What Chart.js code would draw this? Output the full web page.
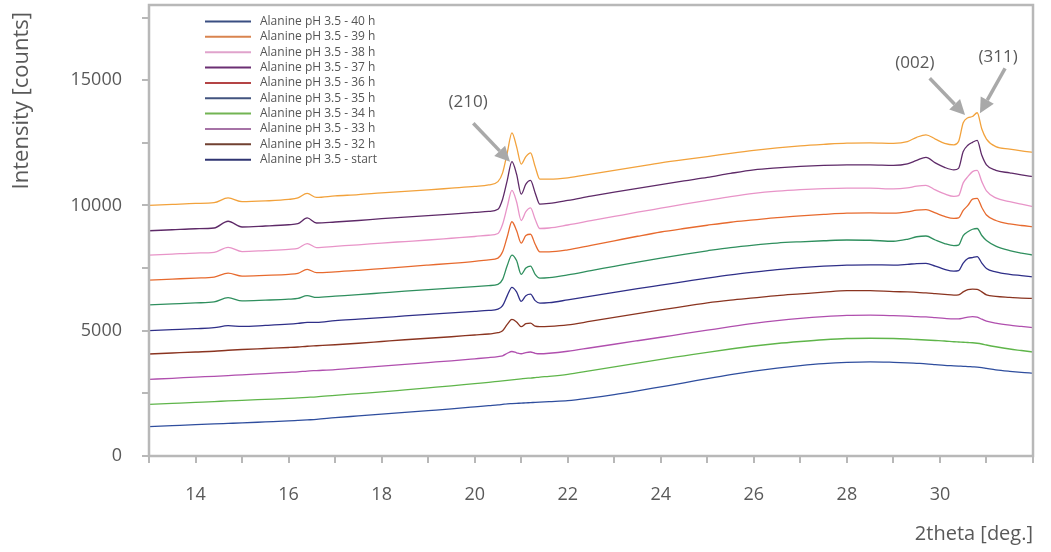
<!DOCTYPE html>
<html><head><meta charset="utf-8">
<script src="https://cdn.jsdelivr.net/npm/chart.js@4.4.1/dist/chart.umd.min.js"></script>
<style>html,body{margin:0;padding:0;background:#fff;}canvas{display:block;}</style>
</head><body>
<canvas id="c" width="1051" height="552"></canvas>
<script>
const twoTheta = [13,13.5,14,14.4,14.7,15.0,15.5,16,16.2,16.4,16.6,17,17.5,18,18.5,19,19.5,20,20.3,20.5,20.6,20.7,20.8,20.9,21.0,21.1,21.2,21.3,21.4,21.6,22,22.5,23,23.5,24,24.5,25,25.5,26,26.5,27,27.5,28,28.5,29,29.3,29.5,29.7,29.9,30.1,30.3,30.4,30.5,30.6,30.7,30.8,30.9,31.0,31.2,31.5,31.75,32];

const s40h = [10000,10040,10080,10110,10300,10150,10180,10240,10300,10480,10320,10380,10430,10500,10560,10620,10690,10760,10820,10950,11300,12100,12900,12350,11650,11950,12100,11550,11050,11050,11100,11250,11400,11550,11700,11830,11950,12080,12200,12300,12380,12440,12490,12500,12480,12550,12720,12820,12650,12480,12420,12550,13300,13500,13550,13700,13050,12650,12350,12250,12180,12120];
const s39h = [8990,9030,9070,9100,9370,9140,9180,9230,9270,9500,9300,9340,9400,9470,9530,9590,9650,9720,9760,9850,10250,11000,11750,11250,10450,10850,11000,10500,10050,10080,10200,10370,10530,10680,10830,10980,11120,11280,11420,11500,11560,11600,11620,11620,11600,11660,11800,11920,11700,11520,11420,11480,12150,12400,12520,12600,12000,11620,11400,11300,11220,11150];
const s38h = [8020,8060,8100,8130,8330,8160,8200,8250,8290,8480,8320,8370,8430,8500,8560,8620,8690,8760,8810,8880,9250,9950,10600,10150,9400,9750,9900,9450,9080,9100,9220,9390,9560,9730,9890,10050,10200,10350,10480,10570,10630,10670,10690,10690,10660,10700,10770,10800,10620,10460,10360,10390,10900,11150,11350,11400,10950,10580,10300,10150,10050,9950];
const s37h = [7020,7060,7100,7140,7300,7180,7210,7250,7290,7450,7320,7350,7410,7480,7550,7620,7690,7770,7830,7900,8150,8750,9350,9000,8500,8800,8850,8450,8150,8150,8230,8410,8590,8770,8940,9080,9210,9330,9420,9510,9580,9640,9690,9700,9690,9740,9810,9830,9700,9560,9480,9500,9800,10000,10250,10280,9920,9620,9400,9260,9200,9150];
const s36h = [6030,6070,6110,6150,6320,6190,6220,6260,6290,6400,6330,6380,6440,6510,6580,6640,6700,6760,6800,6850,7050,7600,8020,7800,7250,7500,7580,7250,7100,7120,7230,7400,7570,7740,7900,8050,8190,8320,8420,8500,8550,8590,8620,8610,8570,8650,8750,8780,8620,8480,8400,8420,8800,8950,9050,9080,8800,8600,8380,8200,8100,8020];
const s35h = [5000,5040,5080,5120,5200,5170,5210,5260,5290,5330,5330,5400,5460,5520,5590,5650,5710,5770,5810,5860,6000,6400,6730,6550,6170,6400,6460,6200,6100,6120,6230,6380,6530,6680,6820,6960,7100,7230,7340,7440,7520,7580,7620,7630,7620,7650,7680,7690,7580,7450,7380,7400,7700,7880,7920,7960,7700,7480,7350,7250,7200,7150];
const s34h = [4070,4110,4150,4180,4220,4250,4290,4330,4350,4380,4400,4440,4500,4570,4640,4700,4760,4830,4870,4920,5000,5250,5450,5350,5160,5280,5300,5180,5160,5170,5230,5380,5530,5680,5830,5970,6110,6220,6310,6400,6470,6540,6600,6600,6560,6550,6530,6510,6480,6450,6420,6430,6550,6640,6660,6650,6550,6430,6370,6330,6300,6290];
const s33h = [3060,3100,3150,3180,3210,3240,3290,3340,3360,3390,3410,3450,3520,3590,3660,3730,3800,3880,3930,3970,4000,4100,4170,4120,4080,4130,4150,4100,4080,4100,4180,4320,4460,4600,4740,4880,5020,5160,5290,5400,5490,5560,5610,5620,5600,5580,5560,5550,5520,5490,5470,5470,5500,5540,5560,5540,5460,5380,5300,5220,5170,5120];
const s32h = [2060,2100,2140,2170,2200,2220,2260,2300,2320,2340,2360,2420,2490,2560,2640,2720,2800,2890,2940,2980,3000,3020,3040,3060,3080,3100,3110,3130,3150,3180,3260,3410,3560,3710,3860,4000,4140,4270,4390,4490,4570,4640,4690,4700,4690,4670,4650,4630,4610,4590,4560,4550,4540,4530,4520,4500,4470,4430,4360,4270,4210,4150];
const sStart = [1170,1210,1250,1280,1300,1320,1360,1400,1420,1440,1460,1530,1600,1670,1740,1810,1880,1960,2010,2040,2060,2080,2090,2100,2110,2120,2130,2140,2150,2170,2210,2320,2450,2600,2760,2920,3090,3250,3390,3510,3610,3690,3740,3760,3740,3720,3700,3680,3650,3620,3600,3590,3580,3570,3560,3550,3530,3500,3440,3380,3340,3310];

const seriesLabels = ['Alanine pH 3.5 - 40 h','Alanine pH 3.5 - 39 h','Alanine pH 3.5 - 38 h','Alanine pH 3.5 - 37 h','Alanine pH 3.5 - 36 h','Alanine pH 3.5 - 35 h','Alanine pH 3.5 - 34 h','Alanine pH 3.5 - 33 h','Alanine pH 3.5 - 32 h','Alanine pH 3.5 - start'];
const seriesValues = [s40h,s39h,s38h,s37h,s36h,s35h,s34h,s33h,s32h,sStart];
const lineColors = ['#f2a23c','#5e2a68','#e894c8','#e76a2e','#2f8f5e','#2f2f88','#8a3420','#b04fae','#5fb54a','#2f4e9e'];
const legendColors = ['#3a4f82','#d9844f','#e0a3cc','#6b2f73','#b44445','#42547f','#72b453','#a673a6','#714131','#2f3472'];

const xTickValues = [13,14,15,16,17,18,19,20,21,22,23,24,25,26,27,28,29,30,31,32];
const xTickLabels = [14,16,18,20,22,24,26,28,30];
const yTickValues = [0,2500,5000,7500,10000,12500,15000,17500];
const yTickLabels = [0,5000,10000,15000];

const peakLabels = ['(210)','(002)','(311)'];
const peakTipX = [20.76,30.54,30.86];
const peakTipY = [11746,13609,13677];
const peakFromX = [19.97,29.78,31.40];
const peakFromY = [13278,15074,15473];
const peakTextX = [19.86,29.46,31.25];
const peakTextY = [14128,15690,15924];

const FONT = "'Open Sans', 'DejaVu Sans', sans-serif";
const TEXT = '#595959';
const AXIS = '#b8b8b8';

const datasets = seriesValues.map((vals, i) => ({
  label: seriesLabels[i],
  data: vals.map((v, j) => ({x: twoTheta[j], y: v})),
  borderColor: lineColors[i],
  backgroundColor: lineColors[i],
  borderWidth: 1.3,
  pointRadius: 0,
  cubicInterpolationMode: 'monotone',
  fill: false
}));

const bgPlugin = {
  id: 'bg',
  beforeDraw(chart) {
    const c = chart.ctx;
    c.save(); c.fillStyle = '#fff'; c.fillRect(0, 0, chart.width, chart.height); c.restore();
  }
};

const framePlugin = {
  id: 'frame',
  afterDatasetsDraw(chart) {
    const {ctx, chartArea: a} = chart;
    ctx.save();
    ctx.strokeStyle = AXIS; ctx.lineWidth = 2.5;
    ctx.strokeRect(a.left, a.top, a.right - a.left, a.bottom - a.top);
    ctx.restore();
  }
};

const legendPlugin = {
  id: 'customLegend',
  afterDraw(chart) {
    const {ctx, chartArea: a} = chart;
    ctx.save();
    ctx.font = "12px " + FONT;
    ctx.textBaseline = 'middle';
    ctx.textAlign = 'left';
    seriesLabels.forEach((lab, i) => {
      const y = a.top + 16.5 + i * 15.35;
      ctx.strokeStyle = legendColors[i];
      ctx.lineWidth = 2;
      ctx.beginPath(); ctx.moveTo(a.left + 56, y); ctx.lineTo(a.left + 102, y); ctx.stroke();
      ctx.fillStyle = '#555';
      ctx.fillText(lab, a.left + 111, y);
    });
    ctx.restore();
  }
};

const yTitlePlugin = {
  id: 'yTitle',
  afterDraw(chart) {
    const {ctx, chartArea: a} = chart;
    ctx.save();
    ctx.translate(22, a.top + 7);
    ctx.rotate(-Math.PI / 2);
    ctx.font = "22px " + FONT;
    ctx.fillStyle = TEXT;
    ctx.textAlign = 'right';
    ctx.textBaseline = 'middle';
    ctx.fillText('Intensity [counts]', 0, 0);
    ctx.restore();
  }
};

const peakPlugin = {
  id: 'peaks',
  afterDraw(chart) {
    const {ctx} = chart;
    const xs = chart.scales.x, ys = chart.scales.y;
    ctx.save();
    peakLabels.forEach((lab, i) => {
      const x0 = xs.getPixelForValue(peakFromX[i]), y0 = ys.getPixelForValue(peakFromY[i]);
      const x1 = xs.getPixelForValue(peakTipX[i]), y1 = ys.getPixelForValue(peakTipY[i]);
      const ang = Math.atan2(y1 - y0, x1 - x0);
      const head = 15, hw = 7.5;
      const bx = x1 - head * Math.cos(ang), by = y1 - head * Math.sin(ang);
      ctx.strokeStyle = '#a9a9a9'; ctx.fillStyle = '#a9a9a9';
      ctx.lineWidth = 3.5; ctx.lineCap = 'butt';
      ctx.beginPath(); ctx.moveTo(x0, y0); ctx.lineTo(bx, by); ctx.stroke();
      ctx.beginPath();
      ctx.moveTo(x1, y1);
      ctx.lineTo(bx + hw * Math.sin(ang), by - hw * Math.cos(ang));
      ctx.lineTo(bx - hw * Math.sin(ang), by + hw * Math.cos(ang));
      ctx.closePath(); ctx.fill();
      ctx.fillStyle = TEXT;
      ctx.font = "17px " + FONT;
      ctx.textAlign = 'center'; ctx.textBaseline = 'middle';
      ctx.fillText(lab, xs.getPixelForValue(peakTextX[i]), ys.getPixelForValue(peakTextY[i]));
    });
    ctx.restore();
  }
};

function pickLabel(list) {
  return (v) => {
    const r = Math.round(v);
    return (Math.abs(v - r) < 1e-6 && list.indexOf(r) !== -1) ? String(r) : '';
  };
}

new Chart(document.getElementById('c'), {
  type: 'line',
  data: {datasets},
  plugins: [bgPlugin, framePlugin, legendPlugin, yTitlePlugin, peakPlugin],
  options: {
    responsive: false,
    animation: false,
    events: [],
    layout: {padding: {top: 5, right: 18, left: 0, bottom: 0}},
    plugins: {legend: {display: false}, tooltip: {enabled: false}},
    scales: {
      x: {
        type: 'linear', min: 13, max: 32,
        border: {display: false},
        grid: {drawOnChartArea: false, drawTicks: true, tickLength: 7, color: AXIS, lineWidth: 2},
        ticks: {
          autoSkip: false, maxRotation: 0, padding: 21,
          color: TEXT, font: {family: FONT, size: 18},
          callback: pickLabel(xTickLabels)
        },
        afterBuildTicks: (s) => { s.ticks = xTickValues.map(v => ({value: v})); },
        title: {display: true, text: '2theta [deg.]', align: 'end', color: TEXT,
                font: {family: FONT, size: 20}, padding: {top: 0, bottom: 6}},
        afterFit: (s) => { s.height = 96; s.paddingLeft = 0; s.paddingRight = 0; }
      },
      y: {
        type: 'linear', min: 0, max: 18000,
        border: {display: false},
        grid: {drawOnChartArea: false, drawTicks: true, tickLength: 7, color: AXIS, lineWidth: 2},
        ticks: {
          autoSkip: false, padding: 20,
          color: TEXT, font: {family: FONT, size: 18},
          callback: pickLabel(yTickLabels)
        },
        afterBuildTicks: (s) => { s.ticks = yTickValues.map(v => ({value: v})); },
        afterFit: (s) => { s.width = 149; s.paddingTop = 0; s.paddingBottom = 0; }
      }
    }
  }
});
</script>
</body></html>
